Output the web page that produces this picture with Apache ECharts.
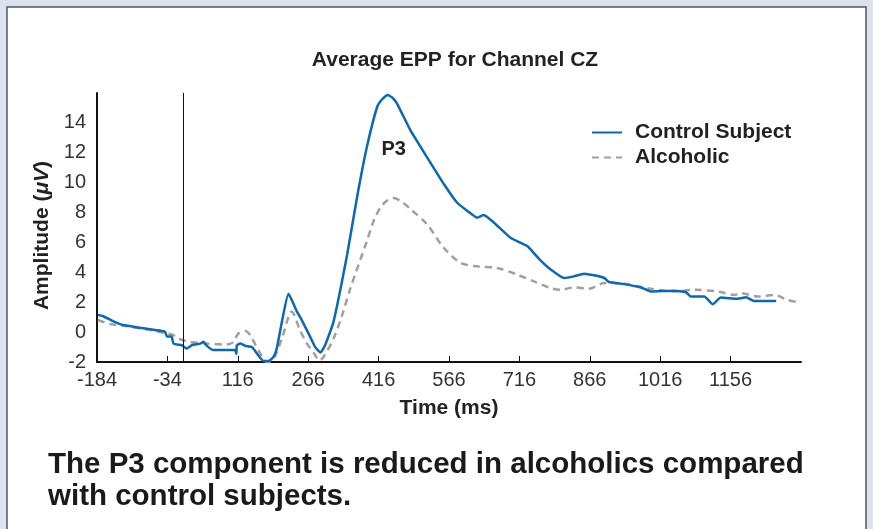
<!DOCTYPE html>
<html>
<head>
<meta charset="utf-8">
<title>Average EPP for Channel CZ</title>
<script src="https://cdn.jsdelivr.net/npm/echarts@6/dist/echarts.min.js"></script>
<style>
  html, body { margin: 0; padding: 0; background: #dde3ee; }
  #main { width: 873px; height: 529px; }
</style>
</head>
<body>
<div id="main"></div>
<script>
// control subject (blue solid)
const controlTime = [-182, -172, -150, -128, -92, -57, -39, -35, -25, -21, -3, 7, 18, 36, 43, 50, 64, 100, 110, 113, 114, 121, 132, 146, 157, 171, 182, 192, 199, 210, 224, 242, 249, 270, 281, 292, 302, 320, 349, 370, 391, 413, 424, 435, 445, 455, 484, 519, 555, 583, 605, 626, 640, 662, 697, 733, 740, 761, 783, 811, 832, 854, 875, 897, 907, 939, 975, 996, 1046, 1071, 1081, 1110, 1128, 1145, 1181, 1199, 1216, 1263];
const controlValue = [1.15, 1.08, 0.74, 0.47, 0.29, 0.13, 0.02, -0.3, -0.3, -0.77, -0.88, -1.1, -0.88, -0.77, -0.65, -0.92, -1.2, -1.2, -1.2, -1.45, -0.88, -0.77, -0.92, -1.0, -1.44, -1.93, -1.93, -1.66, -1.1, 0.7, 2.56, 1.37, 1.0, -0.3, -1.0, -1.37, -0.88, 0.7, 5.19, 9.01, 12.38, 15.08, 15.6, 15.87, 15.7, 15.31, 13.5, 11.71, 9.91, 8.67, 8.11, 7.66, 7.84, 7.32, 6.31, 5.75, 5.53, 4.8, 4.18, 3.62, 3.73, 3.91, 3.8, 3.62, 3.35, 3.21, 2.99, 2.72, 2.77, 2.67, 2.38, 2.38, 1.86, 2.31, 2.23, 2.33, 2.09, 2.09];

// alcoholic (grey dashed)
const alcoholicTime = [-182, -156, -128, -71, -35, -21, -10, 14, 50, 93, 107, 117, 132, 142, 164, 178, 192, 210, 231, 249, 262, 278, 290, 300, 320, 338, 356, 391, 405, 420, 434, 448, 466, 484, 519, 555, 591, 626, 669, 711, 747, 783, 804, 832, 864, 897, 939, 996, 1046, 1089, 1138, 1174, 1188, 1224, 1259, 1288, 1313];
const alcoholicValue = [0.81, 0.54, 0.43, 0.14, -0.09, -0.2, -0.43, -0.65, -0.77, -0.83, -0.65, -0.09, 0.07, -0.2, -1.44, -2.0, -1.8, -0.43, 1.37, 0.1, -0.7, -1.4, -1.9, -1.6, -0.43, 1.1, 2.94, 6.09, 7.4, 8.34, 8.8, 8.97, 8.7, 8.23, 7.22, 5.64, 4.63, 4.4, 4.29, 3.85, 3.39, 2.94, 2.83, 2.99, 2.9, 3.28, 3.24, 2.9, 2.72, 2.83, 2.72, 2.49, 2.6, 2.38, 2.49, 2.15, 1.99];

const xTickValues = [-184, -34, 116, 266, 416, 566, 716, 866, 1016, 1166];
const xTickLabels = ['-184', '-34', '116', '266', '416', '566', '716', '866', '1016', '1156'];
const yTickValues = [-2, 0, 2, 4, 6, 8, 10, 12, 14];

const seriesNames = ['Control Subject', 'Alcoholic'];
const chartTitle = 'Average EPP for Channel CZ';
const captionLines = ['The P3 component is reduced in alcoholics compared', 'with control subjects.'];

const font = '"Liberation Sans", Arial, Helvetica, sans-serif';

let chart = echarts.init(document.getElementById('main'));

let option = {
  backgroundColor: '#dde3ee',
  animation: false,
  title: {
    text: chartTitle,
    left: 450,
    textAlign: 'center',
    top: 45,
    textStyle: { fontFamily: font, fontSize: 21, fontWeight: 'bold', color: '#222' }
  },
  legend: {
    left: 586,
    top: 117,
    orient: 'vertical',
    itemWidth: 30,
    itemHeight: 12,
    itemGap: 4,
    itemStyle: { opacity: 0 },
    textStyle: { fontFamily: font, fontSize: 21, fontWeight: 'bold', color: '#222', padding: [0, 0, 0, 8] },
    data: seriesNames
  },
  grid: {
    left: 97,
    top: 93,
    right: 72,
    bottom: 167
  },
  xAxis: {
    type: 'value',
    min: -184,
    max: 1316,
    interval: 150,
    name: 'Time (ms)',
    nameLocation: 'middle',
    nameGap: 36,
    nameTextStyle: { fontFamily: font, fontSize: 21, fontWeight: 'bold', color: '#222' },
    splitLine: { show: false },
    axisLine: { onZero: false, lineStyle: { color: '#111', width: 2 } },
    axisTick: { inside: true, length: 6, customValues: xTickValues.slice(1), lineStyle: { color: '#111', width: 1 } },
    axisLabel: {
      customValues: xTickValues,
      fontFamily: font, fontSize: 20, color: '#333', margin: 8,
      formatter: v => xTickLabels[xTickValues.indexOf(v)]
    }
  },
  yAxis: {
    type: 'value',
    min: -2,
    max: 16,
    interval: 2,
    name: '{b|Amplitude (}{i|μV}{b|)}',
    nameLocation: 'middle',
    nameGap: 38,
    nameTextStyle: {
      padding: [0, 16, 0, 0],
      rich: {
        b: { fontFamily: font, fontSize: 21, fontWeight: 'bold', color: '#222' },
        i: { fontFamily: font, fontSize: 21, fontWeight: 'bold', fontStyle: 'italic', color: '#222' }
      }
    },
    splitLine: { show: false },
    axisLine: { show: true, onZero: false, lineStyle: { color: '#111', width: 2 } },
    axisTick: { show: false },
    axisLabel: {
      customValues: yTickValues,
      fontFamily: font, fontSize: 20, color: '#333', margin: 11
    }
  },
  series: [
    {
      name: seriesNames[0],
      type: 'line',
      symbol: 'none',
      smooth: 0.15,
      data: controlTime.map((t, i) => [t, controlValue[i]]),
      lineStyle: { color: '#0d68b1', width: 2.5 },
      itemStyle: { color: '#0d68b1' },
      z: 4,
      markLine: {
        silent: true,
        symbol: 'none',
        label: { show: false },
        lineStyle: { color: '#111', width: 1, type: 'solid' },
        data: [{ xAxis: 0 }]
      },
      markPoint: {
        symbol: 'circle',
        symbolSize: 0,
        label: {
          show: true, position: 'inside', formatter: 'P3',
          fontFamily: font, fontSize: 20, fontWeight: 'bold', color: '#222'
        },
        data: [{ coord: [448, 12.2] }]
      }
    },
    {
      name: seriesNames[1],
      type: 'line',
      symbol: 'none',
      smooth: 0.3,
      data: alcoholicTime.map((t, i) => [t, alcoholicValue[i]]),
      lineStyle: { color: '#a0a0a0', width: 2.5, type: [7, 5] },
      itemStyle: { color: '#a0a0a0' },
      z: 3
    }
  ],
  graphic: [
    {
      type: 'rect',
      z: -10,
      shape: { x: 7, y: 7, width: 859, height: 540 },
      style: { fill: '#fff', stroke: '#555', lineWidth: 1.5 }
    },
    {
      type: 'text',
      left: 48,
      top: 449,
      style: {
        text: captionLines.join('\n'),
        font: 'bold 29.5px ' + font,
        lineHeight: 32,
        fill: '#1a1a1a'
      }
    }
  ]
};

option && chart.setOption(option);
</script>
</body>
</html>
